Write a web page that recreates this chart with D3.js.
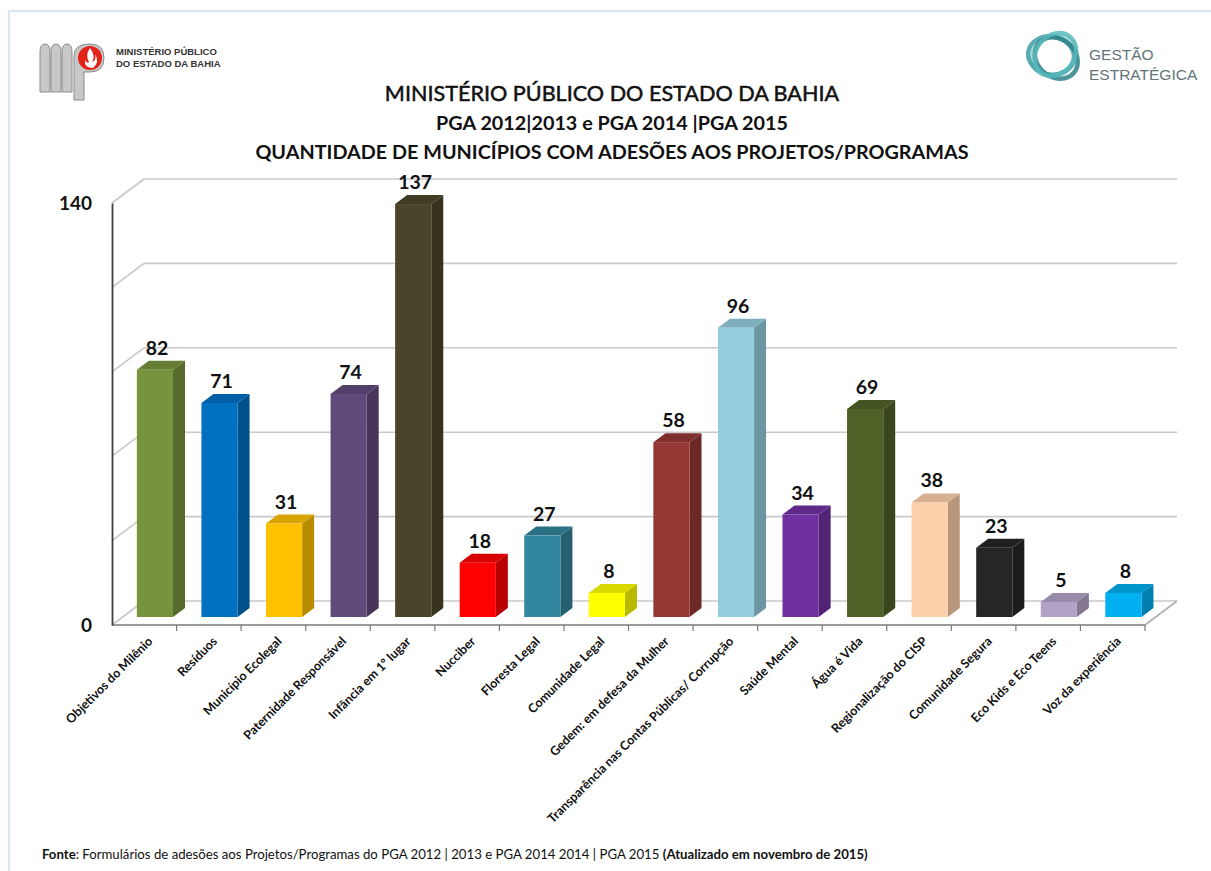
<!DOCTYPE html>
<html>
<head>
<meta charset="utf-8">
<script src="https://cdn.jsdelivr.net/npm/d3@7"></script>
<style>
  body { margin: 0; background: #fff; }
  svg { display: block; }
</style>
</head>
<body>
<svg width="1211" height="871"></svg>
<script>
// dados do grafico
const categories = [
  "Objetivos do Milênio", "Resíduos", "Município Ecolegal", "Paternidade Responsável",
  "Infância em 1º lugar", "Nucciber", "Floresta Legal", "Comunidade Legal",
  "Gedem: em defesa da Mulher", "Transparência nas Contas Públicas/ Corrupção",
  "Saúde Mental", "Água é Vida", "Regionalização do CISP", "Comunidade Segura",
  "Eco Kids e Eco Teens", "Voz da experiência"
];
const values = [82, 71, 31, 74, 137, 18, 27, 8, 58, 96, 34, 69, 38, 23, 5, 8];
const colors = [
  "#77933c", "#0070c0", "#ffc000", "#604a7b", "#4a452a", "#ff0000", "#31859c", "#ffff00",
  "#953735", "#93cddd", "#7030a0", "#4f6228", "#fcd0ab", "#262626", "#b3a2c7", "#00b0f0"
];
const yTickLabels = [0, 140];
const gridValues = [0, 28, 56, 84, 112, 140];

const titles = [
  "MINISTÉRIO PÚBLICO DO ESTADO DA BAHIA",
  "PGA 2012|2013 e PGA 2014 |PGA 2015",
  "QUANTIDADE DE MUNICÍPIOS COM ADESÕES AOS PROJETOS/PROGRAMAS"
];

const font = "Lato, 'Open Sans', sans-serif";
const svg = d3.select("svg");

// moldura azul clara
svg.append("rect").attr("x", 9).attr("y", 11).attr("width", 1230).attr("height", 900)
  .attr("fill", "none").attr("stroke", "#d5e6f6").attr("stroke-width", 2);

// geometria 3D
const left = 112, right = 1145, floorY = 625, topY = 203;
const depth = { dx: 32, dy: -24 };
const face = { dx: depth.dx / 3, dy: depth.dy / 3 };
const side = { dx: 12, dy: -9 };

const x = d3.scaleBand().domain(categories).range([left, right]).padding(0);
const y = d3.scaleLinear().domain([0, 140]).range([floorY, topY]);
const barW = x.bandwidth() * 0.56;

// grade (parede do fundo e lateral)
const grid = svg.append("g");
grid.selectAll(".back").data(gridValues).enter().append("line")
  .attr("x1", left + depth.dx).attr("x2", right + depth.dx)
  .attr("y1", d => y(d) + depth.dy).attr("y2", d => y(d) + depth.dy)
  .attr("stroke", "#c9c9c9").attr("stroke-width", 1.6);
grid.selectAll(".wall").data(gridValues).enter().append("line")
  .attr("x1", left).attr("x2", left + depth.dx)
  .attr("y1", d => y(d)).attr("y2", d => y(d) + depth.dy)
  .attr("stroke", "#c9c9c9").attr("stroke-width", 1.6);
// piso
grid.append("line").attr("x1", right).attr("x2", right + depth.dx)
  .attr("y1", y(0)).attr("y2", y(0) + depth.dy)
  .attr("stroke", "#b0b0b0").attr("stroke-width", 1.6);
grid.append("line").attr("x1", left).attr("x2", right)
  .attr("y1", y(0)).attr("y2", y(0))
  .attr("stroke", "#7a7a7a").attr("stroke-width", 1.6);

// marcas entre categorias
grid.selectAll(".tick").data(d3.range(1, categories.length + 1)).enter().append("line")
  .attr("x1", i => left + i * x.step()).attr("x2", i => left + i * x.step())
  .attr("y1", y(0)).attr("y2", y(0) + 6)
  .attr("stroke", "#7a7a7a").attr("stroke-width", 1.2);

// eixo y
const yAxis = svg.append("g").attr("transform", `translate(${left},0)`)
  .call(d3.axisLeft(y).tickValues(yTickLabels).tickSize(0).tickPadding(20).tickSizeOuter(0));
yAxis.select(".domain").attr("stroke", "#404040").attr("stroke-width", 1.8);
yAxis.selectAll("text").attr("font-family", font).attr("font-weight", "bold")
  .attr("font-size", 19).attr("fill", "#111");

// barras
const data = categories.map((c, i) => ({ c, v: values[i], color: colors[i] }));
const bars = svg.append("g").selectAll("g").data(data).enter().append("g");

function fx(d) { return x(d.c) + x.bandwidth() / 2 + face.dx - barW / 2; }
function fy(d) { return y(d.v) + face.dy; }
const baseY = y(0) + face.dy;

bars.append("polygon")
  .attr("points", d => {
    const x0 = fx(d) + barW, y0 = fy(d);
    return [[x0, y0], [x0, baseY], [x0 + side.dx, baseY + side.dy], [x0 + side.dx, y0 + side.dy]].join(" ");
  })
  .attr("fill", d => d3.color(d.color).darker(0.9));
bars.append("polygon")
  .attr("points", d => {
    const x0 = fx(d), y0 = fy(d);
    return [[x0, y0], [x0 + barW, y0], [x0 + barW + side.dx, y0 + side.dy], [x0 + side.dx, y0 + side.dy]].join(" ");
  })
  .attr("fill", d => d3.color(d.color).darker(0.45));
bars.append("rect")
  .attr("x", fx).attr("y", fy).attr("width", barW)
  .attr("height", d => y(0) - y(d.v))
  .attr("fill", d => d.color);

// rotulos de valor
bars.append("text")
  .attr("x", d => fx(d) + barW / 2 + 2)
  .attr("y", d => fy(d) + side.dy - 6)
  .attr("text-anchor", "middle")
  .attr("font-family", font).attr("font-weight", "bold").attr("font-size", 19.5)
  .attr("fill", "#111")
  .text(d => d.v);

// rotulos das categorias
const xAxis = svg.append("g").attr("transform", `translate(0,${floorY})`)
  .call(d3.axisBottom(x).tickSize(0));
xAxis.select(".domain").remove();
xAxis.selectAll("text")
  .attr("font-family", font).attr("font-weight", "bold").attr("font-size", 12.5)
  .attr("fill", "#111")
  .attr("text-anchor", "end")
  .attr("x", 0).attr("y", 0).attr("dy", "0.35em")
  .attr("transform", "translate(6,14) rotate(-45)");

// titulos
svg.selectAll(".title").data(titles).enter().append("text")
  .attr("x", 612).attr("y", (d, i) => [101, 130, 159][i])
  .attr("text-anchor", "middle")
  .attr("font-family", font).attr("font-weight", (d, i) => i == 0 ? "normal" : "bold")
  .attr("font-size", (d, i) => i == 0 ? 21.6 : 19.8)
  .attr("fill", "#111")
  .attr("stroke", (d, i) => i == 0 ? "#111" : "none").attr("stroke-width", 0.5)
  .text(d => d);

// logo MP
const mp = svg.append("g");
[[40, 10], [51, 10], [62, 10]].forEach(([px, w]) => {
  mp.append("path")
    .attr("d", `M${px},92 L${px},52 Q${px},44 ${px + w / 2},44 Q${px + w},44 ${px + w},52 L${px + w},92 Z`)
    .attr("fill", "#c8c8c8").attr("stroke", "#8c8c8c").attr("stroke-width", 1);
});
mp.append("path").attr("d", "M74,100 L74,56 Q74,44 90,44 Q104,44 104,58 Q104,72 90,72 L84,72 L84,100 Z")
  .attr("fill", "#c8c8c8").attr("stroke", "#8c8c8c").attr("stroke-width", 1);
mp.append("circle").attr("cx", 90).attr("cy", 58).attr("r", 12).attr("fill", "#e2231a");
mp.append("path").attr("d", "M90,48 Q96,56 92,62 Q97,60 95,54 Q100,62 93,68 Q84,68 85,60 Q87,64 89,62 Q85,55 90,48 Z")
  .attr("fill", "#fff");
mp.selectAll(".mpt").data(["MINISTÉRIO PÚBLICO", "DO ESTADO DA BAHIA"]).enter().append("text")
  .attr("x", 116).attr("y", (d, i) => 55 + i * 12)
  .attr("font-family", "'Liberation Sans', Arial, sans-serif").attr("font-weight", "bold")
  .attr("font-size", 9.5).attr("fill", "#333")
  .text(d => d);

// logo Gestao Estrategica
const ge = svg.append("g").attr("transform", "translate(1054,56)");
[["#9fd6d6", -22, 0], ["#3f9fa3", 10, -3], ["#2b8288", 40, 3], ["#58b9bb", -50, 2]].forEach(([c, r, o]) => {
  ge.append("ellipse").attr("cx", o).attr("cy", 0).attr("rx", 23).attr("ry", 19)
    .attr("transform", `rotate(${r})`)
    .attr("fill", "none").attr("stroke", c).attr("stroke-width", 4.5).attr("opacity", 0.85);
});
svg.selectAll(".get").data(["GESTÃO", "ESTRATÉGICA"]).enter().append("text")
  .attr("x", 1089).attr("y", (d, i) => 60 + i * 20)
  .attr("font-family", "'Liberation Sans', Arial, sans-serif")
  .attr("font-size", 15.5).attr("fill", "#5f7478")
  .text(d => d);

// fonte
const foot = svg.append("text").attr("x", 42).attr("y", 859)
  .attr("font-family", font).attr("font-size", 13.2).attr("fill", "#111");
foot.append("tspan").attr("font-weight", "bold").text("Fonte");
foot.append("tspan").text(": Formulários de adesões aos Projetos/Programas do PGA 2012 | 2013 e PGA 2014 2014  |  PGA 2015 ");
foot.append("tspan").attr("font-weight", "bold").text("(Atualizado em novembro de 2015)");
</script>
</body>
</html>
